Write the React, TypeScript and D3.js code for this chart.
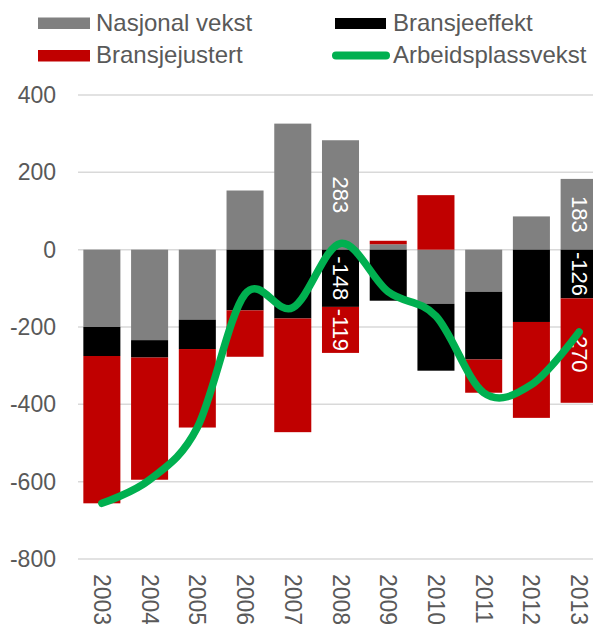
import React, { useMemo } from "react";
import * as d3 from "d3";

const WIDTH = 593;
const HEIGHT = 624;

const years = ["2003", "2004", "2005", "2006", "2007", "2008", "2009", "2010", "2011", "2012", "2013"];
const nasjonalVekst = [-200, -234, -181, 153, 326, 283, 14, -140, -109, 86, 183];
const bransjeeffekt = [-75, -45, -76, -157, -178, -148, -132, -173, -175, -187, -126];
const bransjejustert = [-381, -316, -203, -120, -294, -119, 9, 141, -86, -248, -270];
const arbeidsplassvekst = [-656, -595, -460, -115, -150, 16, -109, -172, -370, -349, -213];
const yTicks = [400, 200, 0, -200, -400, -600, -800];
const labelledYears = ["2008", "2013"];

const series = [
  { key: "Nasjonal vekst", values: nasjonalVekst, color: "#808080" },
  { key: "Bransjeeffekt", values: bransjeeffekt, color: "#000000" },
  { key: "Bransjejustert", values: bransjejustert, color: "#C00000" },
];
const LINE_COLOR = "#00B050";
const TEXT = "#595959";
const FONT = "'Liberation Sans', Arial, sans-serif";

export default function App() {
  const x = useMemo(
    () => d3.scaleBand<string>().domain(years).range([78, 603]).paddingInner(0.224).paddingOuter(0.112),
    []
  );
  const y = useMemo(() => d3.scaleLinear().domain([-800, 400]).range([559, 95]), []);

  const stacked = useMemo(() => {
    const rows = years.map((yr, i) => {
      const r: any = { year: yr };
      series.forEach((s) => (r[s.key] = s.values[i]));
      return r;
    });
    return d3
      .stack<any>()
      .keys(series.map((s) => s.key))
      .offset(d3.stackOffsetDiverging)(rows);
  }, []);

  const linePath = useMemo(() => {
    const gen = d3
      .line<number>()
      .x((_, i) => x(years[i])! + x.bandwidth() / 2)
      .y((d) => y(d))
      .curve(d3.curveCardinal.tension(0));
    return gen(arbeidsplassvekst);
  }, [x, y]);

  return (
    <svg
      width={WIDTH}
      height={HEIGHT}
      style={{ position: "absolute", left: 0, top: 0, background: "#fff" }}
      fontFamily={FONT}
    >
      {/* legend */}
      <g fontSize={24} fill={TEXT}>
        <rect x={38} y={17.5} width={52} height={11.5} fill="#808080" />
        <text x={96} y={31}>Nasjonal vekst</text>
        <rect x={38} y={50} width={52} height={11.5} fill="#C00000" />
        <text x={96} y={63}>Bransjejustert</text>
        <rect x={335} y={18} width={51} height={11} fill="#000000" />
        <text x={393} y={31}>Bransjeeffekt</text>
        <line x1={336} x2={386} y1={55.5} y2={55.5} stroke={LINE_COLOR} strokeWidth={8} strokeLinecap="round" />
        <text x={393} y={63}>Arbeidsplassvekst</text>
      </g>

      {/* grid + y labels */}
      {yTicks.map((t) => (
        <g key={t}>
          <line x1={78} x2={603} y1={y(t)} y2={y(t)} stroke="#D9D9D9" strokeWidth={1.5} />
          <text x={56} y={y(t)} dy="0.35em" textAnchor="end" fontSize={23} fill={TEXT}>
            {t}
          </text>
        </g>
      ))}

      {/* bars */}
      {stacked.map((layer, si) => (
        <g key={layer.key} fill={series[si].color}>
          {layer.map((d, i) => (
            <rect
              key={years[i]}
              x={x(years[i])}
              width={x.bandwidth()}
              y={y(Math.max(d[0], d[1]))}
              height={Math.abs(y(d[0]) - y(d[1]))}
            />
          ))}
        </g>
      ))}

      {/* data labels */}
      {stacked.map((layer) =>
        layer.map((d, i) => {
          if (!labelledYears.includes(years[i])) return null;
          const cx = x(years[i])! + x.bandwidth() / 2;
          const cy = (y(d[0]) + y(d[1])) / 2;
          const v = (d.data as any)[layer.key];
          return (
            <text
              key={layer.key + years[i]}
              transform={`translate(${cx},${cy}) rotate(90)`}
              textAnchor="middle"
              dominantBaseline="central"
              fontSize={22}
              fill="#fff"
            >
              {v}
            </text>
          );
        })
      )}

      {/* line */}
      <path d={linePath ?? ""} fill="none" stroke={LINE_COLOR} strokeWidth={7.5} strokeLinecap="round" />

      {/* x labels */}
      {years.map((yr) => (
        <text
          key={yr}
          transform={`translate(${x(yr)! + x.bandwidth() / 2},574) rotate(90)`}
          dominantBaseline="central"
          fontSize={23}
          fill={TEXT}
        >
          {yr}
        </text>
      ))}
    </svg>
  );
}
